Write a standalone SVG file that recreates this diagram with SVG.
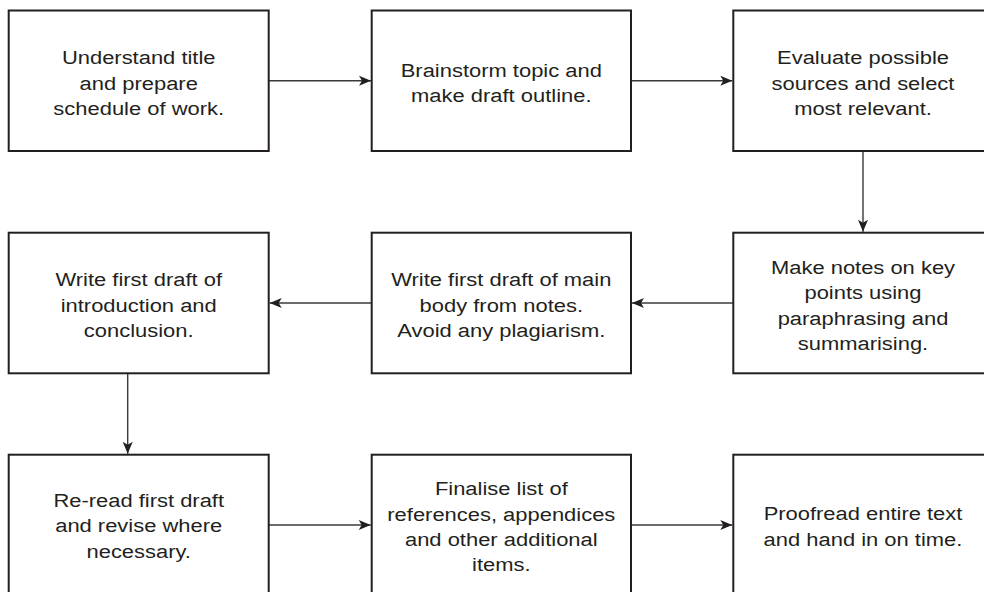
<svg xmlns="http://www.w3.org/2000/svg" width="984" height="592" viewBox="0 0 984 592">
<style>
.box{fill:#ffffff;stroke:#231f20;stroke-width:2}
.lbl{font-family:"Liberation Sans",Arial,Helvetica,sans-serif;font-size:18.6px;fill:#231f20;text-anchor:middle}
.con{stroke:#3a3a3a;stroke-width:1.4;fill:none}
</style>
<defs>
<marker id="ah" markerUnits="userSpaceOnUse" markerWidth="14" markerHeight="12" viewBox="-13 -6 14 12" refX="0" refY="0" orient="auto">
<path d="M0,0 L-12,-5 L-9,0 L-12,5 Z" fill="#231f20"/>
</marker>
</defs>
<rect width="984" height="592" fill="#ffffff"/>
<g id="connectors">
<line class="con" x1="268.7" y1="80.75" x2="371" y2="80.75" marker-end="url(#ah)"/>
<line class="con" x1="631" y1="80.75" x2="732.3" y2="80.75" marker-end="url(#ah)"/>
<line class="con" x1="863" y1="151" x2="863" y2="231.7" marker-end="url(#ah)"/>
<line class="con" x1="733.3" y1="303" x2="632" y2="303" marker-end="url(#ah)"/>
<line class="con" x1="371.7" y1="303" x2="269.7" y2="303" marker-end="url(#ah)"/>
<line class="con" x1="127.7" y1="373.3" x2="127.7" y2="453.7" marker-end="url(#ah)"/>
<line class="con" x1="268.7" y1="525" x2="370.7" y2="525" marker-end="url(#ah)"/>
<line class="con" x1="631" y1="525" x2="732.3" y2="525" marker-end="url(#ah)"/>
</g>
<g id="n1">
<rect class="box" x="8.7" y="10.5" width="260" height="140.5"/>
<text class="lbl" transform="translate(138.7 0) scale(1.18 1)"><tspan x="0" y="64.3">Understand title</tspan><tspan x="0" y="90">and prepare</tspan><tspan x="0" y="115.5">schedule of work.</tspan></text>
</g>
<g id="n2">
<rect class="box" x="371.7" y="10.5" width="259.3" height="140.5"/>
<text class="lbl" transform="translate(501.3 0) scale(1.18 1)"><tspan x="0" y="77">Brainstorm topic and</tspan><tspan x="0" y="102.5">make draft outline.</tspan></text>
</g>
<g id="n3">
<rect class="box" x="733.3" y="10.5" width="259.5" height="140.5"/>
<text class="lbl" transform="translate(863 0) scale(1.18 1)"><tspan x="0" y="64.3">Evaluate possible</tspan><tspan x="0" y="90">sources and select</tspan><tspan x="0" y="115.5">most relevant.</tspan></text>
</g>
<g id="n4">
<rect class="box" x="8.7" y="232.7" width="260" height="140.6"/>
<text class="lbl" transform="translate(138.7 0) scale(1.18 1)"><tspan x="0" y="286.5">Write first draft of</tspan><tspan x="0" y="312">introduction and</tspan><tspan x="0" y="337.5">conclusion.</tspan></text>
</g>
<g id="n5">
<rect class="box" x="371.7" y="232.7" width="259.3" height="140.6"/>
<text class="lbl" transform="translate(501.3 0) scale(1.18 1)"><tspan x="0" y="286.5">Write first draft of main</tspan><tspan x="0" y="312">body from notes.</tspan><tspan x="0" y="337.5">Avoid any plagiarism.</tspan></text>
</g>
<g id="n6">
<rect class="box" x="733.3" y="232.7" width="259.5" height="140.6"/>
<text class="lbl" transform="translate(863 0) scale(1.18 1)"><tspan x="0" y="273.8">Make notes on key</tspan><tspan x="0" y="299.3">points using</tspan><tspan x="0" y="324.8">paraphrasing and</tspan><tspan x="0" y="350.3">summarising.</tspan></text>
</g>
<g id="n7">
<rect class="box" x="8.7" y="454.7" width="260" height="140.5"/>
<text class="lbl" transform="translate(138.7 0) scale(1.18 1)"><tspan x="0" y="506.7">Re-read first draft</tspan><tspan x="0" y="532.3">and revise where</tspan><tspan x="0" y="558">necessary.</tspan></text>
</g>
<g id="n8">
<rect class="box" x="371.7" y="454.7" width="259.3" height="140.5"/>
<text class="lbl" transform="translate(501.3 0) scale(1.18 1)"><tspan x="0" y="495">Finalise list of</tspan><tspan x="0" y="520.7">references, appendices</tspan><tspan x="0" y="546">and other additional</tspan><tspan x="0" y="571">items.</tspan></text>
</g>
<g id="n9">
<rect class="box" x="733.3" y="454.7" width="259.5" height="140.5"/>
<text class="lbl" transform="translate(863 0) scale(1.18 1)"><tspan x="0" y="520">Proofread entire text</tspan><tspan x="0" y="546">and hand in on time.</tspan></text>
</g>
</svg>
